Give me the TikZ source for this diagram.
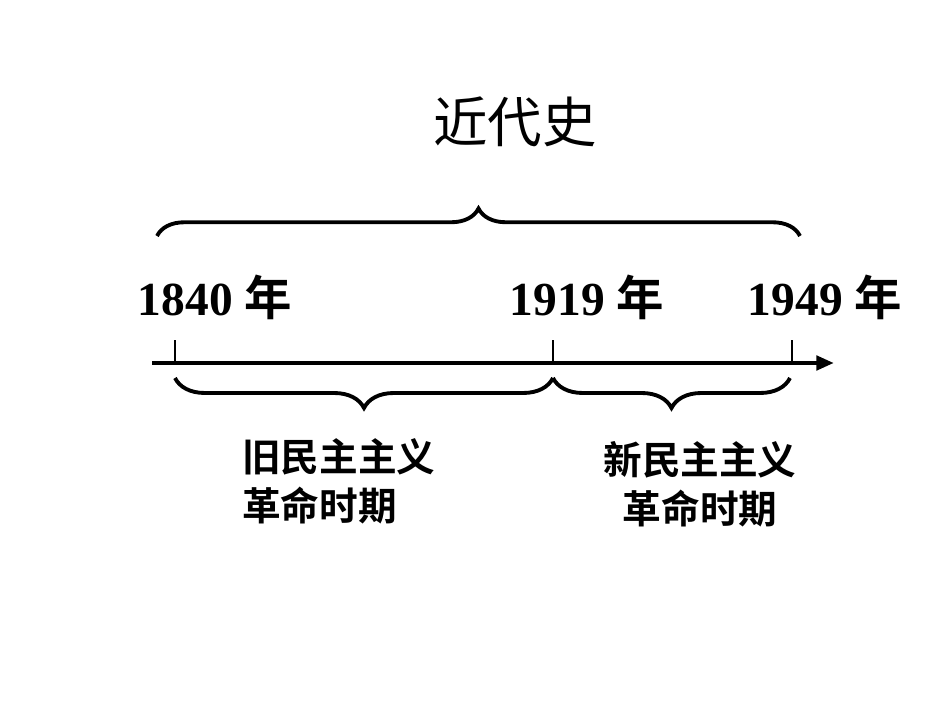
\documentclass[tikz,border=0pt]{standalone}
\usepackage{fontspec}
\setmainfont{Liberation Serif}
\newfontfamily\cjk{Noto Sans CJK SC}[BoldFont={Noto Sans CJK SC Bold}]
\usetikzlibrary{decorations.pathreplacing,arrows.meta}
\tikzset{
  brc/.style={decorate,decoration={brace,amplitude=#1},line width=2.2pt},
  yr/.style={font=\fontsize{27}{30}\selectfont\bfseries},
  period/.style={font=\cjk\fontsize{22}{28}\selectfont\bfseries,align=#1}
}
\begin{document}
\begin{tikzpicture}[x=0.02cm,y=-0.02cm]
\useasboundingbox (0,0) rectangle (950,713);
\node[font=\cjk\fontsize{31}{34}\selectfont] (title) at (515,122) {近代史};
\coordinate (tl) at (157,236);
\coordinate (tr) at (800,236);
\draw[brc=0.55cm] (tl) -- (tr);
\node[yr] (y1) at (215,297) {1840 {\cjk 年}};
\node[yr] (y2) at (587,297) {1919 {\cjk 年}};
\node[yr] (y3) at (825,297) {1949 {\cjk 年}};
\coordinate (a0) at (152,363);
\coordinate (a1) at (834,363);
\draw[line width=2.8pt,-{Triangle[length=10pt,width=8pt]}] (a0) -- (a1);
\coordinate (t1) at (175,363);
\coordinate (t2) at (553,363);
\coordinate (t3) at (792,363);
\foreach \t in {t1,t2,t3}
  \draw[line width=1.6pt] (\t) -- ++(0,-23);
\coordinate (b1) at (175,378);
\coordinate (b2) at (553,378);
\coordinate (b3) at (790,378);
\draw[brc=0.6cm] (b2) -- (b1);
\draw[brc=0.6cm] (b3) -- (b2);
\node[period=left,anchor=north west] (p1) at (236,432) {旧民主主义\\革命时期};
\node[period=center,anchor=north] (p2) at (700,435) {新民主主义\\革命时期};
\end{tikzpicture}
\end{document}
